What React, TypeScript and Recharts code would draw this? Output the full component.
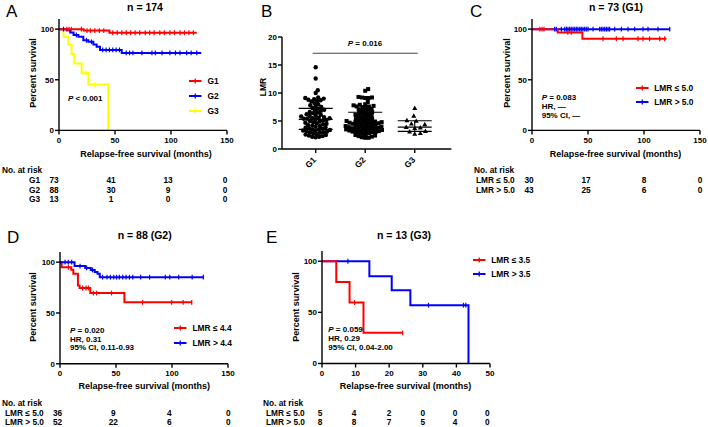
import React from 'react'
import { ComposedChart, Line, Scatter, XAxis, YAxis, ErrorBar, ReferenceLine } from 'recharts'

const FONT = '"Liberation Sans", Arial, Helvetica, sans-serif'
const RED = '#ff0000'
const BLUE = '#0000ff'
const YEL = '#ffff00'

type Pt = [number, number]

// ---- Panel A: n = 174 (months, percent survival) ----
const aG1: Pt[] = [[0, 100], [22, 98.6], [45, 96.4], [123, 96.4]]
const aG1Cens: Pt[] = [[7, 100], [9, 100], [11, 100], [20, 100], [25, 98.6], [28, 98.6], [32, 98.6], [36, 98.6], [40, 98.6], [48, 96.4], [52, 96.4], [56, 96.4], [60, 96.4], [64, 96.4], [68, 96.4], [72, 96.4], [77, 96.4], [81, 96.4], [85, 96.4], [90, 96.4], [94, 96.4], [99, 96.4], [103, 96.4], [108, 96.4], [112, 96.4], [116, 96.4], [120, 96.4]]
const aG2: Pt[] = [[0, 100], [7, 98.9], [10, 96.7], [13, 94.3], [17.3, 92.4], [21.7, 89], [26.2, 87.5], [30.7, 84.8], [33.6, 82.5], [36.6, 79.5], [56, 76.5], [127, 76.5]]
const aG2Cens: Pt[] = [[4, 100], [15.5, 94.3], [24.5, 89], [29, 87.5], [39, 79.5], [42, 79.5], [45, 79.5], [48, 79.5], [51, 79.5], [54, 79.5], [60, 76.5], [63, 76.5], [66, 76.5], [74, 76.5], [83, 76.5], [86, 76.5], [92, 76.5], [99, 76.5], [104, 76.5], [108, 76.5], [114, 76.5], [118, 76.5], [123, 76.5]]
const aG3: Pt[] = [[0, 100], [4, 92.3], [8.3, 84.6], [11.3, 75.5], [13.7, 66], [20.2, 56.5], [26.2, 45.2], [44, 0]]
const aG3Cens: Pt[] = [[24.5, 56.5], [32, 45.2]]
const aRiskG1 = [73, 41, 13, 0]
const aRiskG2 = [88, 30, 9, 0]
const aRiskG3 = [13, 1, 0, 0]

// ---- Panel B: LMR by group ----
const bCats = ['G1', 'G2', 'G3']
const bG1 = [14.6, 12.6, 10.5, 10.0, 9.2, 9.1, 9.0, 8.9, 8.8, 8.7, 8.6, 8.5, 8.2, 8.0, 7.8, 7.6, 7.5, 7.3, 7.2, 7.0, 6.9, 6.8, 6.6, 6.5, 6.4, 6.2, 6.1, 6.0, 5.9, 5.8, 5.7, 5.6, 5.5, 5.5, 5.4, 5.4, 5.3, 5.2, 5.1, 5.0, 4.9, 4.8, 4.7, 4.6, 4.5, 4.4, 4.3, 4.2, 4.1, 4.0, 3.9, 3.8, 3.7, 3.6, 3.5, 3.5, 3.4, 3.3, 3.3, 3.2, 3.1, 3.0, 3.0, 2.9, 2.8, 2.7, 2.6, 2.5, 2.4, 2.3, 2.2, 2.2, 2.1]
const bG2 = [10.7, 10.4, 9.3, 9.2, 9.2, 9.1, 9.1, 8.4, 8.0, 7.9, 7.8, 7.7, 7.6, 7.6, 7.5, 7.4, 7.2, 7.1, 7.0, 6.9, 6.8, 6.6, 6.5, 6.4, 6.3, 6.2, 6.1, 6.0, 5.9, 5.8, 5.7, 5.6, 5.5, 5.4, 5.3, 5.2, 5.1, 5.0, 5.0, 4.9, 4.9, 4.8, 4.8, 4.7, 4.7, 4.6, 4.6, 4.5, 4.5, 4.4, 4.3, 4.3, 4.2, 4.1, 4.1, 4.0, 4.0, 3.9, 3.9, 3.8, 3.8, 3.7, 3.7, 3.6, 3.6, 3.5, 3.5, 3.4, 3.4, 3.3, 3.3, 3.2, 3.2, 3.1, 3.1, 3.0, 3.0, 2.9, 2.8, 2.7, 2.6, 2.5, 2.4, 2.3, 2.2, 2.1, 2.0, 2.0]
const bG3 = [7.3, 5.9, 5.1, 5.0, 4.5, 4.4, 3.9, 3.8, 3.7, 3.2, 3.1, 2.8, 2.7]
const bBracket = { x1: 0.94, x2: 3.06, y: 17.1 }

// ---- Panel C: n = 73 (G1) ----
const cLo: Pt[] = [[0, 100], [23, 96.7], [45, 90.5], [120, 90.5]]
const cLoCens: Pt[] = [[7, 100], [9, 100], [10.7, 100], [32, 96.7], [35, 96.7], [63.4, 90.5], [75.3, 90.5], [81.3, 90.5], [94.6, 90.5], [99.1, 90.5], [105, 90.5], [114, 90.5], [118.5, 90.5]]
const cHi: Pt[] = [[0, 100], [123, 100]]
const cHiCens: Pt[] = [[20.2, 100], [21.7, 100], [26.2, 100], [29.2, 100], [30.7, 100], [32.1, 100], [33.6, 100], [35.1, 100], [36.6, 100], [38.1, 100], [39.6, 100], [41, 100], [42.6, 100], [44, 100], [45.5, 100], [47, 100], [48.5, 100], [50, 100], [54.5, 100], [60.4, 100], [61.9, 100], [63.4, 100], [64.9, 100], [66.4, 100], [67.9, 100], [69.3, 100], [73.8, 100], [79.8, 100], [85.7, 100], [91.7, 100], [99.1, 100], [103.6, 100], [112.5, 100], [123, 100]]
const cRiskLo = [30, 17, 8, 0]
const cRiskHi = [43, 25, 6, 0]

// ---- Panel D: n = 88 (G2) ----
const dLo: Pt[] = [[0, 100], [1.5, 95], [10, 92.5], [11.9, 88.5], [16, 77], [17.5, 74.6], [27, 69.6], [57.5, 60.5], [118, 60.5]]
const dLoCens: Pt[] = [[7.4, 95], [20.2, 74.6], [23.2, 74.6], [25.3, 74.6], [29.8, 69.6], [32.7, 69.6], [46, 69.6], [73.8, 60.5], [99.7, 60.5], [110, 60.5], [117.6, 60.5]]
const dHi: Pt[] = [[0, 100], [13, 96.2], [22.5, 94.3], [27.5, 92.4], [31, 90.4], [33.5, 88.5], [35.5, 85.2], [128, 85.2]]
const dHiCens: Pt[] = [[4.5, 100], [7.4, 100], [10.4, 100], [17.9, 96.2], [23.8, 94.3], [29, 92.4], [38, 85.2], [42, 85.2], [45, 85.2], [48, 85.2], [50.5, 85.2], [53, 85.2], [56, 85.2], [59, 85.2], [62, 85.2], [65, 85.2], [72, 85.2], [80, 85.2], [94, 85.2], [98, 85.2], [106, 85.2], [118, 85.2], [128, 85.2]]
const dRiskLo = [36, 9, 4, 0]
const dRiskHi = [52, 22, 6, 0]

// ---- Panel E: n = 13 (G3) ----
const eLo: Pt[] = [[0, 100], [4.25, 79.8], [8.2, 59.6], [12.35, 30], [24, 30]]
const eLoCens: Pt[] = [[9.7, 59.6], [24, 30]]
const eHi: Pt[] = [[0, 100], [14.1, 85.3], [20.75, 71.7], [26.3, 57], [43.6, 0]]
const eHiCens: Pt[] = [[7.7, 100], [31.7, 57], [42.1, 57], [42.8, 57]]
const eRiskLo = [5, 4, 2, 0, 0, 0]
const eRiskHi = [8, 8, 7, 5, 4, 0]

const toObj = (pts: Pt[]) => pts.map(([x, y]) => ({ x, y }))

function T({ x, y, s = 8.3, b = true, a = 'start', rot = false, children, style }: any) {
  const tx = a === 'middle' ? '-50%' : a === 'end' ? '-100%' : '0'
  return (
    <div
      style={{
        position: 'absolute', left: x, top: y,
        transform: rot ? 'translate(-50%,-50%) rotate(-90deg)' : `translate(${tx},-50%)`,
        fontSize: s, fontWeight: b ? 700 : 400, lineHeight: 1, whiteSpace: 'nowrap',
        fontFamily: FONT, color: '#000', ...style,
      }}
    >
      {children}
    </div>
  )
}

function Leg({ x, y, color, label }: { x: number; y: number; color: string; label: string }) {
  return (
    <>
      <svg style={{ position: 'absolute', left: x, top: y - 4 }} width={13} height={8}>
        <line x1={0} x2={12.5} y1={4} y2={4} stroke={color} strokeWidth={2} />
        <line x1={6.25} x2={6.25} y1={1.5} y2={6.5} stroke={color} strokeWidth={1.3} />
      </svg>
      <T x={x + 18.5} y={y} s={8.4}>{label}</T>
    </>
  )
}

const axisProps = {
  axisLine: { stroke: '#000', strokeWidth: 1.4 },
  tickLine: { stroke: '#000', strokeWidth: 1.4 },
  tick: { fontSize: 8, fontWeight: 700, fill: '#000', fontFamily: FONT },
  tickSize: 4,
}

interface Curve { pts: Pt[]; cens: Pt[]; color: string }

function KM({ L, Tp, W, H, xMax, xTicks, curves }: { L: number; Tp: number; W: number; H: number; xMax: number; xTicks: number[]; curves: Curve[] }) {
  const YW = 40, MT = 6, MR = 8, XH = 22
  return (
    <div style={{ position: 'absolute', left: L - YW, top: Tp - MT }}>
      <ComposedChart width={YW + W + MR} height={MT + H + XH} margin={{ top: MT, right: MR, bottom: 0, left: 0 }}>
        <XAxis type="number" dataKey="x" domain={[0, xMax]} ticks={xTicks} interval={0} height={XH} tickMargin={3} {...axisProps} />
        <YAxis type="number" dataKey="y" domain={[0, 110]} ticks={[0, 50, 100]} interval={0} width={YW} tickMargin={1} {...axisProps} />
        {curves.map((c, i) => (
          <Line key={'l' + i} data={toObj(c.pts)} dataKey="y" type="stepAfter" stroke={c.color} strokeWidth={2} dot={false} activeDot={false} isAnimationActive={false} />
        ))}
        {curves.map((c, i) => (
          <Scatter
            key={'s' + i}
            data={toObj(c.cens)}
            dataKey="y"
            isAnimationActive={false}
            shape={(p: any) => <line x1={p.cx} x2={p.cx} y1={p.cy - 2.4} y2={p.cy + 2.4} stroke={c.color} strokeWidth={1.2} />}
          />
        ))}
      </ComposedChart>
    </div>
  )
}

// beeswarm offsets (px) so points do not overlap too much
function swarm(values: number[], pxPerUnit: number, d: number): number[] {
  const idx = values.map((_, i) => i).sort((a, b) => values[a] - values[b])
  const placed: { x: number; y: number }[] = []
  const out = new Array(values.length).fill(0)
  for (const i of idx) {
    const y = values[i] * pxPerUnit
    const cands = [0]
    for (const p of placed) {
      const dy = Math.abs(p.y - y)
      if (dy < d) {
        const dx = Math.sqrt(d * d - dy * dy)
        cands.push(p.x + dx, p.x - dx)
      }
    }
    cands.sort((a, b) => Math.abs(a) - Math.abs(b))
    let chosen = 0
    for (const c of cands) {
      if (placed.every((p) => (p.x - c) ** 2 + (p.y - y) ** 2 >= d * d - 0.01)) { chosen = c; break }
    }
    placed.push({ x: chosen, y })
    out[i] = chosen
  }
  return out
}

function quart(values: number[]) {
  const s = [...values].sort((a, b) => a - b)
  const at = (p: number) => {
    const r = (s.length + 1) * p - 1
    const lo = Math.max(0, Math.floor(r)), hi = Math.min(s.length - 1, Math.ceil(r))
    return s[lo] + (s[hi] - s[lo]) * (r - lo)
  }
  return [at(0.25), at(0.5), at(0.75)]
}

const GTick = (p: any) => {
  const ax = p.x + 1, ay = p.y + 7.5
  return (
    <text x={ax} y={ay} transform={`rotate(-45 ${ax} ${ay})`} textAnchor="end" fontSize={8.5} fontWeight={700} fontFamily={FONT} fill="#000">
      {bCats[p.payload.value - 1]}
    </text>
  )
}

function PanelB() {
  const L = 282.3, Tp = 37.3, W = 169.4, H = 112
  const YW = 30, MT = 4, MR = 4, XH = 26
  const ppu = H / 20
  const groups = [bG1, bG2, bG3]
  const spacing = [3.5, 3.4, 5.6]
  const data = groups.map((g, gi) => {
    const off = swarm(g, ppu, spacing[gi])
    return g.map((v, i) => ({ x: gi + 1, y: v, dx: off[i] }))
  })
  const stats = groups.map((g, gi) => {
    const [q1, med, q3] = quart(g)
    return { x: gi + 1, y: med, err: [med - q1, q3 - med] }
  })
  const circle = (p: any) => <circle cx={p.cx + p.payload.dx} cy={p.cy} r={2.2} fill="#000" />
  const square = (p: any) => <rect x={p.cx + p.payload.dx - 2} y={p.cy - 2} width={4} height={4} fill="#000" />
  const tri = (p: any) => {
    const x = p.cx + p.payload.dx, y = p.cy
    return <polygon points={`${x},${y - 2.6} ${x + 2.5},${y + 1.8} ${x - 2.5},${y + 1.8}`} fill="#000" />
  }
  const shapes = [circle, square, tri]
  return (
    <div style={{ position: 'absolute', left: L - YW, top: Tp - MT }}>
      <ComposedChart width={YW + W + MR} height={MT + H + XH} margin={{ top: MT, right: MR, bottom: 0, left: 0 }}>
        <XAxis type="number" dataKey="x" domain={[0.32, 3.74]} ticks={[1, 2, 3]} interval={0} height={XH} tickMargin={0} {...axisProps} tick={<GTick />} />
        <YAxis type="number" dataKey="y" domain={[0, 20]} ticks={[0, 5, 10, 15, 20]} interval={0} width={YW} tickMargin={1} {...axisProps} />
        <ReferenceLine segment={[{ x: bBracket.x1, y: bBracket.y }, { x: bBracket.x2, y: bBracket.y }]} stroke="#444" strokeWidth={1} />
        {data.map((d, i) => (
          <Scatter key={i} data={d} dataKey="y" isAnimationActive={false} shape={shapes[i]} />
        ))}
        <Scatter
          data={stats}
          dataKey="y"
          isAnimationActive={false}
          shape={(p: any) => <line x1={p.cx - 17} x2={p.cx + 17} y1={p.cy} y2={p.cy} stroke="#000" strokeWidth={1.2} />}
        >
          <ErrorBar dataKey="err" direction="y" width={17} stroke="#000" strokeWidth={1.1} />
        </Scatter>
      </ComposedChart>
    </div>
  )
}

function Risk({ x0, y0, labelX, labels, rows, cols }: { x0: number; y0: number; labelX: number; labels: string[]; rows: number[][]; cols: number[] }) {
  return (
    <>
      <T x={x0} y={y0}>No. at risk</T>
      {rows.map((r, ri) => (
        <React.Fragment key={ri}>
          <T x={labelX} y={y0 + 10 + ri * 9.7}>{labels[ri]}</T>
          {r.map((v, ci) => (
            <T key={ci} x={cols[ci]} y={y0 + 10 + ri * 9.7} a="middle">{v}</T>
          ))}
        </React.Fragment>
      ))}
    </>
  )
}

const P = () => <i>P</i>

export default function App() {
  return (
    <div style={{ position: 'absolute', left: 0, top: 0, width: 708, height: 427, background: '#fff', overflow: 'hidden', fontFamily: FONT }}>
      {/* Panel A */}
      <T x={6} y={11} s={17} b={false}>A</T>
      <T x={145} y={6.5} s={10.5} a="middle">n = 174</T>
      <KM L={59} Tp={18.9} W={168} H={111.4} xMax={150} xTicks={[0, 50, 100, 150]}
        curves={[{ pts: aG3, cens: aG3Cens, color: YEL }, { pts: aG2, cens: aG2Cens, color: BLUE }, { pts: aG1, cens: aG1Cens, color: RED }]} />
      <T x={32.5} y={73} s={9} rot>Percent survival</T>
      <T x={146} y={154} s={9} a="middle">Relapse-free survival (months)</T>
      <Leg x={189} y={80.7} color={RED} label="G1" />
      <Leg x={189} y={95.7} color={BLUE} label="G2" />
      <Leg x={189} y={110.7} color={YEL} label="G3" />
      <T x={68} y={99} s={8}><P /> &lt; 0.001</T>
      <Risk x0={2} y0={170} labelX={29} labels={['G1', 'G2', 'G3']} rows={[aRiskG1, aRiskG2, aRiskG3]} cols={[54, 111, 168, 225]} />

      {/* Panel B */}
      <T x={261} y={11} s={17} b={false}>B</T>
      <PanelB />
      <T x={263} y={87} s={8.5} rot>LMR</T>
      <T x={365} y={44.3} s={8} a="middle"><P /> = 0.016</T>

      {/* Panel C */}
      <T x={470} y={11} s={17} b={false}>C</T>
      <T x={616} y={6.7} s={10.5} a="middle">n = 73 (G1)</T>
      <KM L={532} Tp={18.9} W={168} H={111.4} xMax={150} xTicks={[0, 50, 100, 150]}
        curves={[{ pts: cHi, cens: cHiCens, color: BLUE }, { pts: cLo, cens: cLoCens, color: RED }]} />
      <T x={506.7} y={73} s={9} rot>Percent survival</T>
      <T x={615.5} y={154} s={9} a="middle">Relapse-free survival (months)</T>
      <Leg x={635.7} y={87.7} color={RED} label="LMR ≤ 5.0" />
      <Leg x={635.7} y={101.7} color={BLUE} label="LMR > 5.0" />
      <T x={541.7} y={98.3} s={8}><P /> = 0.083</T>
      <T x={541.7} y={107.3} s={8}>HR, —</T>
      <T x={541.7} y={116} s={8}>95% CI, —</T>
      <Risk x0={474} y0={170} labelX={476} labels={['LMR ≤ 5.0', 'LMR > 5.0']} rows={[cRiskLo, cRiskHi]} cols={[529, 586, 644, 700]} />

      {/* Panel D */}
      <T x={7} y={236.7} s={17} b={false}>D</T>
      <T x={144.7} y={234.5} s={10.5} a="middle">n = 88 (G2)</T>
      <KM L={60} Tp={251.5} W={168} H={111.8} xMax={150} xTicks={[0, 50, 100, 150]}
        curves={[{ pts: dLo, cens: dLoCens, color: RED }, { pts: dHi, cens: dHiCens, color: BLUE }]} />
      <T x={33.3} y={306.7} s={9} rot>Percent survival</T>
      <T x={144.3} y={386} s={9} a="middle">Relapse-free survival (months)</T>
      <Leg x={174} y={328.3} color={RED} label="LMR ≤ 4.4" />
      <Leg x={174} y={343.3} color={BLUE} label="LMR > 4.4" />
      <T x={70} y={330.7} s={8}><P /> = 0.020</T>
      <T x={70} y={339.5} s={8}>HR, 0.31</T>
      <T x={70} y={348.3} s={8}>95% CI, 0.11-0.93</T>
      <Risk x0={2} y0={402.7} labelX={5} labels={['LMR ≤ 5.0', 'LMR > 5.0']} rows={[dRiskLo, dRiskHi]} cols={[57.5, 113.3, 169.3, 228.3]} />

      {/* Panel E */}
      <T x={266} y={236.7} s={17} b={false}>E</T>
      <T x={404} y={234.5} s={10.5} a="middle">n = 13 (G3)</T>
      <KM L={322} Tp={250.8} W={168} H={112.5} xMax={50} xTicks={[0, 10, 20, 30, 40, 50]}
        curves={[{ pts: eHi, cens: eHiCens, color: BLUE }, { pts: eLo, cens: eLoCens, color: RED }]} />
      <T x={296} y={306.7} s={9} rot>Percent survival</T>
      <T x={405.5} y={386} s={9} a="middle">Relapse-free survival (months)</T>
      <Leg x={472.7} y={260} color={RED} label="LMR ≤ 3.5" />
      <Leg x={472.7} y={274} color={BLUE} label="LMR > 3.5" />
      <T x={328.3} y={330} s={8}><P /> = 0.059</T>
      <T x={328.3} y={339} s={8}>HR, 0.29</T>
      <T x={328.3} y={348} s={8}>95% CI, 0.04-2.00</T>
      <Risk x0={263} y0={402.7} labelX={266} labels={['LMR ≤ 5.0', 'LMR > 5.0']} rows={[eRiskLo, eRiskHi]} cols={[320, 354, 389, 422.7, 455, 487.3]} />
    </div>
  )
}
